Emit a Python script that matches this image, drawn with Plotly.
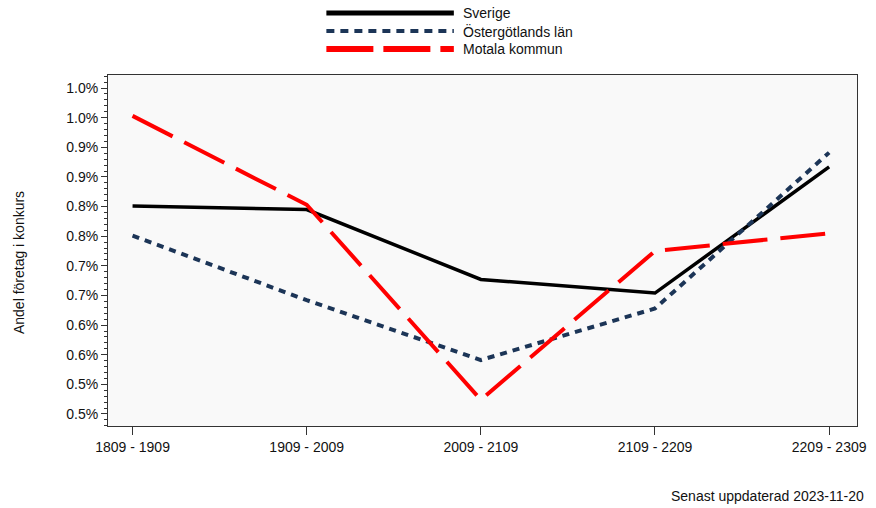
import plotly.graph_objects as go

categories = ["1809 - 1909", "1909 - 2009", "2009 - 2109", "2109 - 2209", "2209 - 2309"]
sverige = [0.851, 0.845, 0.727, 0.704, 0.917]
ostergotland = [0.801, 0.692, 0.591, 0.678, 0.941]
motala = [1.003, 0.853, 0.524, 0.775, 0.805]
series_names = ["Sverige", "Östergötlands län", "Motala kommun"]
ytick_vals = [0.50, 0.55, 0.60, 0.65, 0.70, 0.75, 0.80, 0.85, 0.90, 0.95, 1.00, 1.05]
ytick_text = ["0.5%", "0.5%", "0.6%", "0.6%", "0.7%", "0.7%", "0.8%", "0.8%", "0.9%", "0.9%", "1.0%", "1.0%"]

W, H = 876, 508
L, T = 108, 75
R = W - 866
B = H - 426
pw, ph = W - L - R, H - T - B

def px(x):
    return (x - L) / pw

def py(y):
    return (H - B - y) / ph

styles = [
    dict(color="#000000", width=3.5, dash="solid"),
    dict(color="#1c3557", width=4, dash="7px,6px"),
    dict(color="#ff0000", width=4, dash="45px,13px"),
]

fig = go.Figure()
xs = list(range(len(categories)))
for name, vals, st in zip(series_names, [sverige, ostergotland, motala], styles):
    fig.add_trace(go.Scatter(x=xs, y=vals, mode="lines", name=name, line=st, showlegend=False))

font = "Liberation Sans, Arial, sans-serif"

# manual legend
leg_y = [13, 31, 49]
leg_styles = [
    dict(color="#000000", width=5, dash="solid"),
    dict(color="#1c3557", width=4, dash="8px,6px"),
    dict(color="#ff0000", width=6, dash="47px,10px"),
]
for name, yy, st in zip(series_names, leg_y, leg_styles):
    fig.add_shape(type="line", xref="paper", yref="paper", x0=px(329), x1=px(458), y0=py(yy), y1=py(yy), line=st)
    fig.add_annotation(xref="paper", yref="paper", x=px(465), y=py(yy), text=name, showarrow=False,
                       xanchor="left", yanchor="middle", font=dict(family=font, size=14, color="#111"))

fig.add_annotation(xref="paper", yref="paper", x=px(18), y=py(263), text="Andel företag i konkurs",
                   textangle=-90, showarrow=False, xanchor="center", yanchor="middle",
                   font=dict(family=font, size=14, color="#111"))
fig.add_annotation(xref="paper", yref="paper", x=px(875), y=py(496), text="Senast uppdaterad 2023-11-20",
                   showarrow=False, xanchor="right", yanchor="middle",
                   font=dict(family=font, size=14, color="#111"))

fig.update_layout(
    width=W, height=H,
    margin=dict(l=L, r=R, t=T, b=B),
    paper_bgcolor="white", plot_bgcolor="#f9f9f9",
    showlegend=False,
    font=dict(family=font, size=14, color="#111"),
)
fig.update_xaxes(
    range=[-0.141, 4.16], tickvals=xs, ticktext=categories,
    showgrid=False, zeroline=False, showline=True, linecolor="#333", linewidth=1, mirror=True,
    ticks="outside", ticklen=8, tickcolor="#333", tickfont=dict(size=14, color="#111"),
)
fig.update_yaxes(
    range=[0.4797, 1.072], tickvals=ytick_vals, ticktext=ytick_text,
    showgrid=False, zeroline=False, showline=True, linecolor="#333", linewidth=1, mirror=True,
    ticks="outside", ticklen=6, tickcolor="#333", tickfont=dict(size=14, color="#111"),
    minor=dict(ticks="outside", ticklen=3, tickcolor="#333", tick0=0.5, dtick=0.01, showgrid=False),
)

fig.write_html("out.html", config={"displayModeBar": False},
               post_script="document.body.style.margin='0';document.body.style.overflow='hidden';")
